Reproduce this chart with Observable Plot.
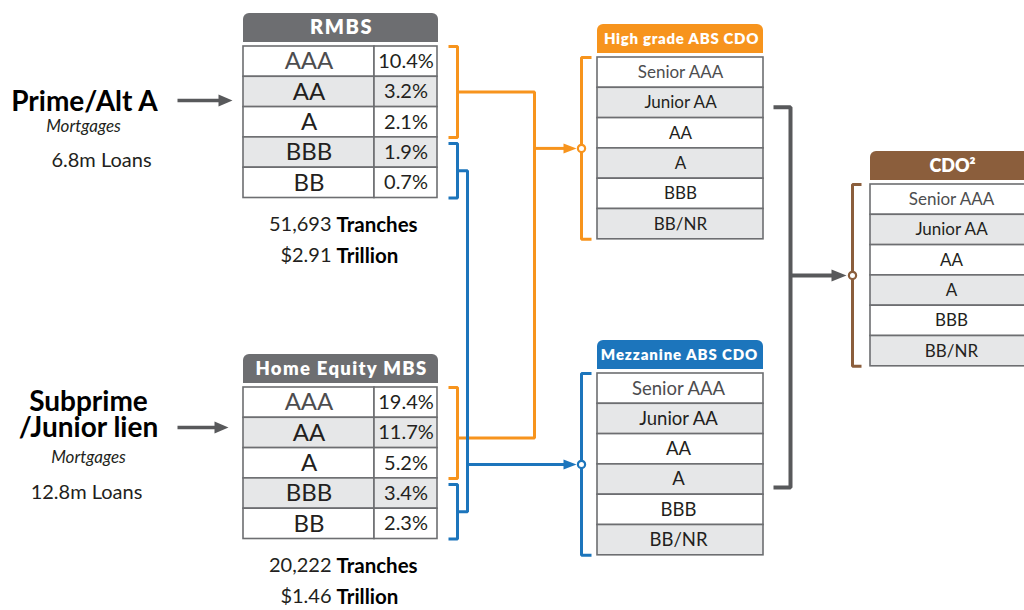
<!DOCTYPE html>
<html><head><meta charset="utf-8">
<script src="https://cdn.jsdelivr.net/npm/d3@7"></script>
<script src="https://cdn.jsdelivr.net/npm/@observablehq/plot@0.6"></script>
<style>body{margin:0;background:#fff;} svg{display:block}</style>
</head><body><div id="chart"></div>
<script>
// ---------- data ----------
const sourceNames = ["Prime/Alt A", "Subprime\n/Junior lien"];
const sourceSub = ["Mortgages", "Mortgages"];
const loanCounts = ["6.8m Loans", "12.8m Loans"];
const mbsTitles = ["RMBS", "Home Equity MBS"];
const mbsRatings = ["AAA", "AA", "A", "BBB", "BB"];
const rmbsShares = [10.4, 3.2, 2.1, 1.9, 0.7];
const homeEquityShares = [19.4, 11.7, 5.2, 3.4, 2.3];
const trancheCounts = ["51,693", "20,222"];
const trillions = ["$2.91", "$1.46"];
const cdoTitles = ["High grade ABS CDO", "Mezzanine ABS CDO", "CDO²"];
const cdoTranches = ["Senior AAA", "Junior AA", "AA", "A", "BBB", "BB/NR"];

// ---------- style & layout ----------
const COL = {gray: "#58595b", head: "#6d6e71", border: "#6d6e71", band: "#e6e7e8",
  orange: "#f7941d", blue: "#1c75bc", brown: "#8b5e3c", text: "#231f20", soft: "#4d4d4f"};
const FONT = "Lato, 'Open Sans', sans-serif";
const rowH = 30.3;
const mbsLayout = [{x1: 243, div: 374, x2: 437, top: 46, srcY: 100}, {x1: 243, div: 374, x2: 437, top: 387, srcY: 427}];
const cdoLayout = [{x1: 597, x2: 763, top: 57, color: COL.orange, cx: 680, fs: 17, hs: 15, ls: 0.7},
                   {x1: 597, x2: 763, top: 373, color: COL.blue, cx: 678, fs: 18.5, hs: 15, ls: 0.9},
                   {x1: 870, x2: 1032, top: 184, color: COL.brown, cx: 951, fs: 17, hs: 18, ls: 0}];
const srcLayout = [{x: 84, titleY: 102, subX: 83, subY: 126, loanX: 101, loanY: 160},
                   {x: 88, titleY: 415, subX: 88, subY: 457, loanX: 86, loanY: 492}];
const bracketX = {mbsV: 457, mbsT: 448, cdoV: 581, cdoT: 591, cdo2V: 852, cdo2T: 861};
const busX = {orange: 534, blue: 467, gray: 790, grayStub: 773};
const grayRows = [1.64, 3.76]; // where the gray link leaves each CDO table (in rows)

// ---------- build tables ----------
const cells = [], headers = [], headerBottoms = [];
const txtRating = [], txtPct = [], txtCdo = [], txtHead = [];
[rmbsShares, homeEquityShares].forEach((shares, b) => {
  const L = mbsLayout[b];
  headers.push({x1: L.x1, x2: L.x2 + 1, y1: L.top - 33, y2: L.top - 4, fill: COL.head});
  headerBottoms.push({x1: L.x1, x2: L.x2 + 1, y1: L.top - 18, y2: L.top - 4, fill: COL.head});
  txtHead.push({x: (L.x1 + L.x2) / 2 + 1, y: L.top - 18.5, label: mbsTitles[b], size: b ? 18.5 : 20, ls: b ? 1.3 : 1.6});
  mbsRatings.forEach((r, i) => {
    const y1 = L.top + i * rowH, y2 = y1 + rowH, fill = i % 2 ? COL.band : "#ffffff";
    cells.push({x1: L.x1, x2: L.div, y1, y2, fill}, {x1: L.div, x2: L.x2, y1, y2, fill});
    txtRating.push({x: (L.x1 + L.div) / 2, y: (y1 + y2) / 2, label: r, color: r === "AAA" ? COL.soft : COL.text});
    txtPct.push({x: (L.div + L.x2) / 2, y: (y1 + y2) / 2, label: shares[i].toFixed(1) + "%"});
  });
});
cdoLayout.forEach((L, b) => {
  headers.push({x1: L.x1, x2: L.x2, y1: L.top - 33, y2: L.top - 4, fill: L.color});
  headerBottoms.push({x1: L.x1, x2: L.x2, y1: L.top - 18, y2: L.top - 4, fill: L.color});
  txtHead.push({x: L.cx + 1, y: L.top - 18.5, label: cdoTitles[b], size: L.hs, ls: L.ls});
  cdoTranches.forEach((t, i) => {
    const y1 = L.top + i * rowH, y2 = y1 + rowH;
    cells.push({x1: L.x1, x2: L.x2, y1, y2, fill: i % 2 ? COL.band : "#ffffff"});
    txtCdo.push({x: L.cx, y: (y1 + y2) / 2, label: t, size: L.fs, color: t === "Senior AAA" ? COL.soft : COL.text});
  });
});

// ---------- connectors ----------
const paths = [];
function addPath(id, color, pts) { pts.forEach(([x, y]) => paths.push({id, color, x, y})); }
const heads = [], rings = [], shafts = [];
mbsLayout.forEach((L, b) => {
  const oTop = L.top, oBot = L.top + 3 * rowH, bTop = L.top + 3 * rowH + 6, bBot = L.top + 5 * rowH;
  addPath("o" + b, COL.orange, [[bracketX.mbsT, oTop], [bracketX.mbsV, oTop], [bracketX.mbsV, oBot], [bracketX.mbsT, oBot]]);
  addPath("b" + b, COL.blue, [[bracketX.mbsT, bTop], [bracketX.mbsV, bTop], [bracketX.mbsV, bBot], [bracketX.mbsT, bBot]]);
  L.oMid = (oTop + oBot) / 2 + (b ? 5 : 0); L.bMid = (bTop + bBot) / 2;
});
addPath("obus", COL.orange, [[bracketX.mbsV, mbsLayout[0].oMid], [busX.orange, mbsLayout[0].oMid], [busX.orange, mbsLayout[1].oMid], [bracketX.mbsV, mbsLayout[1].oMid]]);
addPath("bbus", COL.blue, [[bracketX.mbsV, mbsLayout[0].bMid], [busX.blue, mbsLayout[0].bMid], [busX.blue, mbsLayout[1].bMid], [bracketX.mbsV, mbsLayout[1].bMid]]);
cdoLayout.forEach((L, b) => {
  const v = b === 2 ? bracketX.cdo2V : bracketX.cdoV, t = b === 2 ? bracketX.cdo2T : bracketX.cdoT;
  const top = L.top, bot = L.top + 6 * rowH;
  addPath("c" + b, L.color, [[t, top], [v, top], [v, bot], [t, bot]]);
  L.mid = (top + bot) / 2;
  rings.push({x: v, y: L.mid, color: L.color});
});
const grayPaths = [
  {id: "g", x: busX.grayStub, y: cdoLayout[0].top + grayRows[0] * rowH},
  {id: "g", x: busX.gray, y: cdoLayout[0].top + grayRows[0] * rowH},
  {id: "g", x: busX.gray, y: cdoLayout[1].top + grayRows[1] * rowH},
  {id: "g", x: busX.grayStub, y: cdoLayout[1].top + grayRows[1] * rowH}];
function addArrow(x0, x1, y, color, w, len, half) {
  shafts.push({x1: x0, x2: x1 - len + 2, y, color, w});
  heads.push({x: x1, y, color, len, half});
}
mbsLayout.forEach((L, b) => addArrow(177, b ? 228 : 232, L.srcY, COL.gray, 3.5, 14, 6));
addArrow(busX.orange, bracketX.cdoV - 5, cdoLayout[0].mid, COL.orange, 3, 13, 5);
addArrow(busX.blue, bracketX.cdoV - 5, cdoLayout[1].mid, COL.blue, 3, 13, 5);
addArrow(busX.gray, bracketX.cdo2V - 6, cdoLayout[2].mid, COL.gray, 4, 15, 6);
function headSymbol(len, half) {
  return {draw(ctx) { ctx.moveTo(0, 0); ctx.lineTo(-len, -half); ctx.lineTo(-len, half); ctx.closePath(); }};
}

// ---------- left labels ----------
const titleTxt = [], subTxt = [], loanTxt = [];
sourceNames.forEach((name, i) => {
  const S = srcLayout[i];
  titleTxt.push({x: S.x, y: S.titleY, label: name});
  subTxt.push({x: S.subX, y: S.subY, label: sourceSub[i]});
  loanTxt.push({x: S.loanX, y: S.loanY, label: loanCounts[i]});
});
const statNum = [], statWord = [];
mbsLayout.forEach((L, b) => {
  const y0 = L.top + 5 * rowH + 27;
  statNum.push({x: 331, y: y0, label: trancheCounts[b]}, {x: 331, y: y0 + 31, label: trillions[b]});
  statWord.push({x: 336, y: y0, label: "Tranches"}, {x: 336, y: y0 + 31, label: "Trillion"});
});

// ---------- plot ----------
const T = (data, o) => Plot.text(data, {x: "x", y: "y", text: "label", fontFamily: FONT, textAnchor: "middle", lineAnchor: "middle", ...o});
const headMarks = d3.groups(txtHead, d => d.size).map(([s, g]) => T(g, {fill: "#ffffff", fontWeight: 800, fontSize: s}));
const cdoMarks = d3.groups(txtCdo, d => d.size).map(([s, g]) => T(g, {fill: "color", fontSize: s}));
const chart = Plot.plot({
  width: 1024, height: 610, margin: 0,
  x: {domain: [0, 1024], range: [0, 1024], axis: null},
  y: {domain: [0, 610], range: [0, 610], axis: null},
  color: {type: "identity"},
  marks: [
    Plot.rect(headers, {x1: "x1", x2: "x2", y1: "y1", y2: "y2", fill: "fill", rx: 6}),
    Plot.rect(headerBottoms, {x1: "x1", x2: "x2", y1: "y1", y2: "y2", fill: "fill"}),
    Plot.rect(cells, {x1: "x1", x2: "x2", y1: "y1", y2: "y2", fill: "fill", stroke: COL.border, strokeWidth: 1.6}),
    Plot.line(paths, {x: "x", y: "y", z: "id", stroke: "color", strokeWidth: 3, curve: "linear", strokeLinejoin: "miter", strokeLinecap: "butt"}),
    Plot.line(grayPaths, {x: "x", y: "y", z: "id", stroke: COL.gray, strokeWidth: 4, curve: "linear", strokeLinejoin: "miter", strokeLinecap: "butt"}),
    ...shafts.map(s => Plot.link([s], {x1: "x1", x2: "x2", y1: "y", y2: "y", stroke: s.color, strokeWidth: s.w})),
    ...heads.map(h => Plot.dot([h], {x: "x", y: "y", fill: h.color, stroke: "none", r: 5, symbol: headSymbol(h.len, h.half)})),
    Plot.dot(rings, {x: "x", y: "y", r: 3.6, fill: "#ffffff", stroke: "color", strokeWidth: 2.2}),
    ...headMarks,
    T(txtRating, {fill: "color", fontSize: 24}),
    T(txtPct, {fill: COL.text, fontSize: 20}),
    ...cdoMarks,
    T(titleTxt, {fill: "#000000", fontWeight: 700, fontSize: 28, lineHeight: 0.93}),
    T(subTxt, {fill: COL.text, fontStyle: "italic", fontSize: 17}),
    T(loanTxt, {fill: COL.text, fontSize: 20}),
    T(statNum, {fill: COL.text, fontSize: 20, textAnchor: "end"}),
    T(statWord, {fill: "#000000", fontWeight: 700, fontSize: 20.5, textAnchor: "start"})
  ]
});
// header letter-spacing (Plot has no letter-spacing option)
const spacing = new Map(txtHead.map(d => [d.label, d.ls]));
d3.select(chart).selectAll("text").each(function () {
  const ls = spacing.get(this.textContent);
  if (ls) d3.select(this).attr("letter-spacing", ls);
});
document.getElementById("chart").appendChild(chart);
</script></body></html>
